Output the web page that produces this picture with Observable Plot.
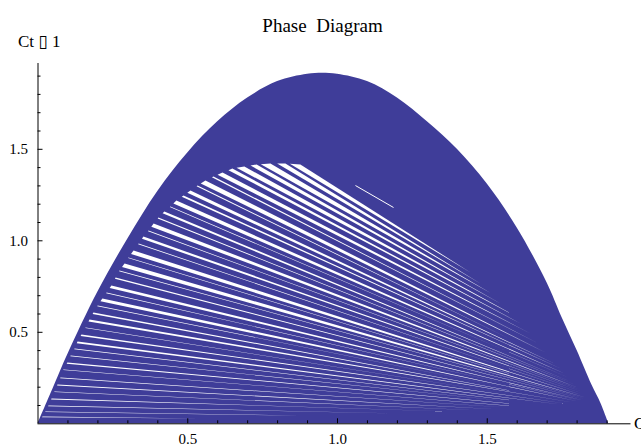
<!DOCTYPE html>
<html>
<head>
<meta charset="utf-8">
<script src="https://cdn.jsdelivr.net/npm/d3@7"></script>
<script src="https://cdn.jsdelivr.net/npm/@observablehq/plot@0.6"></script>
<style>
  html, body { margin: 0; padding: 0; background: #fff; }
  #chart svg { display: block; }
</style>
</head>
<body>
<div id="chart"></div>
<script>
// Outer envelope of the trajectory (C_t, C_t+1)
const envX = [0, 0.05, 0.1, 0.2, 0.3, 0.4, 0.5, 0.6, 0.7, 0.8, 0.9, 0.95, 1.0, 1.1, 1.2, 1.3, 1.4, 1.5, 1.6, 1.7, 1.75, 1.8, 1.85, 1.88, 1.906];
const envY = [0, 0.19, 0.38, 0.72, 1.01, 1.27, 1.48, 1.65, 1.78, 1.87, 1.91, 1.915, 1.91, 1.87, 1.78, 1.65, 1.50, 1.31, 1.07, 0.77, 0.58, 0.40, 0.21, 0.11, 0];

// Uncovered (white) gaps between segments.
// Each gap starts at a point of the inner arc (gapX1, gapY1), covers a share (gapFrac)
// of the arc down to the next start point, and tapers to a tip (gapX2, gapY2).
const gapX1 = [0.876, 0.826, 0.776, 0.730, 0.689, 0.649, 0.616, 0.586, 0.559, 0.533, 0.509, 0.486, 0.462, 0.442, 0.422, 0.402, 0.386, 0.369, 0.352, 0.336, 0.319, 0.302, 0.289, 0.272, 0.259, 0.245, 0.229, 0.215, 0.199, 0.185, 0.172, 0.159, 0.145, 0.132, 0.122, 0.109, 0.098, 0.085, 0.075, 0.065, 0.055, 0.045, 0.035, 0.025, 0.015, 0];
const gapY1 = [1.417, 1.422, 1.422, 1.417, 1.406, 1.395, 1.373, 1.351, 1.330, 1.302, 1.275, 1.248, 1.220, 1.187, 1.160, 1.127, 1.095, 1.056, 1.023, 0.985, 0.947, 0.909, 0.876, 0.838, 0.799, 0.756, 0.717, 0.685, 0.646, 0.608, 0.570, 0.526, 0.488, 0.450, 0.411, 0.373, 0.335, 0.297, 0.253, 0.215, 0.177, 0.138, 0.100, 0.067, 0.040, 0];
const gapFrac = [0.7, 0.55, 0.7, 0.5, 0.65, 0.4, 0.55, 0.2, 0.6, 0.15, 0.45, 0.25, 0.5, 0.1, 0.3, 0.15, 0.45, 0.1, 0.3, 0.1, 0.5, 0.1, 0.5, 0.1, 0.15, 0.35, 0.1, 0.4, 0.08, 0.2, 0.25, 0.08, 0.2, 0.25, 0.08, 0.1, 0.18, 0.08, 0.12, 0.14, 0.08, 0.12, 0.14, 0.1, 0.1];
const gapX2 = [1.444, 1.477, 1.514, 1.544, 1.578, 1.611, 1.644, 1.671, 1.694, 1.715, 1.731, 1.745, 1.758, 1.771, 1.785, 1.791, 1.801, 1.808, 1.815, 1.818, 1.821, 1.825, 1.828, 1.828, 1.825, 1.821, 1.811, 1.805, 1.798, 1.791, 1.785, 1.778, 1.761, 1.745, 1.728, 1.705, 1.678, 1.644, 1.611, 1.544, 1.477, 1.377, 1.210, 0.876, 0.543];
const gapY2 = [0.827, 0.767, 0.712, 0.657, 0.603, 0.548, 0.494, 0.439, 0.390, 0.352, 0.324, 0.302, 0.275, 0.253, 0.226, 0.215, 0.199, 0.188, 0.177, 0.166, 0.155, 0.149, 0.144, 0.138, 0.133, 0.127, 0.127, 0.122, 0.122, 0.116, 0.116, 0.111, 0.111, 0.105, 0.100, 0.100, 0.095, 0.089, 0.084, 0.078, 0.073, 0.067, 0.056, 0.045, 0.029];

// Thin white hairline in the dense band
const hairX = [1.06, 1.187];
const hairY = [1.302, 1.182];

const xMinor = [0.1,0.2,0.3,0.4,0.6,0.7,0.8,0.9,1.1,1.2,1.3,1.4,1.6,1.7,1.8,1.9];
const xMajor = [0.5, 1.0, 1.5];
const xTickLabels = ["0.5", "1.0", "1.5"];
const yMinor = [0.1,0.2,0.3,0.4,0.6,0.7,0.8,0.9,1.1,1.2,1.3,1.4,1.6,1.7,1.8,1.9];
const yMajor = [0.5, 1.0, 1.5];
const yTickLabels = ["0.5", "1.0", "1.5"];

const title = "Phase  Diagram";
const xLabel = "Ct";
const yLabel = "Ct \u25AF 1";

const blue = "#3f3d99";
const serif = "'Liberation Serif', 'DejaVu Serif', serif";

const env = envX.map((x, i) => ({x, y: envY[i]}));
const gaps = [];
gapX2.forEach((x2, i) => {
  const f = gapFrac[i];
  gaps.push({id: i, x: gapX1[i], y: gapY1[i]});
  gaps.push({id: i, x: x2, y: gapY2[i]});
  gaps.push({id: i,
    x: gapX1[i] + f * (gapX1[i + 1] - gapX1[i]),
    y: gapY1[i] + f * (gapY1[i + 1] - gapY1[i])});
});
const hair = [{x1: hairX[0], y1: hairY[0], x2: hairX[1], y2: hairY[1]}];

const W = 641, H = 448;
const x0 = 37.5, xUnit = 299.5, yZero = 423.3, yUnit = 183;
const xMax = 1.9, yMax = (yZero - 63) / yUnit;

const plot = Plot.plot({
  width: W,
  height: H,
  marginLeft: x0,
  marginRight: W - (x0 + xMax * xUnit),
  marginTop: 63,
  marginBottom: H - yZero,
  x: {domain: [0, xMax], axis: null},
  y: {domain: [0, yMax], axis: null},
  style: {fontFamily: serif, background: "#fff"},
  marks: [
    Plot.areaY(env, {x: "x", y1: 0, y2: "y", fill: blue, curve: "catmull-rom"}),
    Plot.line(gaps, {x: "x", y: "y", z: "id", fill: "#fff", stroke: "none", curve: "linear-closed"}),
    Plot.link(hair, {x1: "x1", y1: "y1", x2: "x2", y2: "y2", stroke: "#fff", strokeWidth: 1}),
    // axes
    Plot.ruleY([0], {x1: 0, x2: 1.98, stroke: "#000", strokeWidth: 1, clip: false}),
    Plot.ruleX([0], {y1: 0, y2: yMax, stroke: "#000", strokeWidth: 1}),
    Plot.ruleX(xMinor, {x: d => d, y1: 0, y2: 0, insetBottom: 3, stroke: "#000"}),
    Plot.ruleX(xMajor, {x: d => d, y1: 0, y2: 0, insetBottom: 5, stroke: "#000"}),
    Plot.ruleY(yMinor, {y: d => d, x1: 0, x2: 0, insetRight: -3, stroke: "#000"}),
    Plot.ruleY(yMajor, {y: d => d, x1: 0, x2: 0, insetRight: -5, stroke: "#000"}),
    Plot.text(xMajor, {x: d => d, y: 0, text: (d, i) => xTickLabels[i], dy: 15, fontSize: 15, fill: "#000"}),
    Plot.text(yMajor, {x: 0, y: d => d, text: (d, i) => yTickLabels[i], dx: -10, textAnchor: "end", fontSize: 15, fill: "#000"}),
    Plot.text([xLabel], {x: 1.98, y: 0, text: d => d, dx: 3, textAnchor: "start", fontSize: 17, fill: "#000", clip: false}),
    Plot.text([yLabel], {x: 0, y: yMax, text: d => d, dx: -20, dy: -22, textAnchor: "start", fontSize: 17, fill: "#000"}),
    Plot.text([title], {frameAnchor: "top", dy: -45, text: d => d, fontSize: 19, fill: "#000"})
  ]
});
document.getElementById("chart").appendChild(plot);
</script>
</body>
</html>
